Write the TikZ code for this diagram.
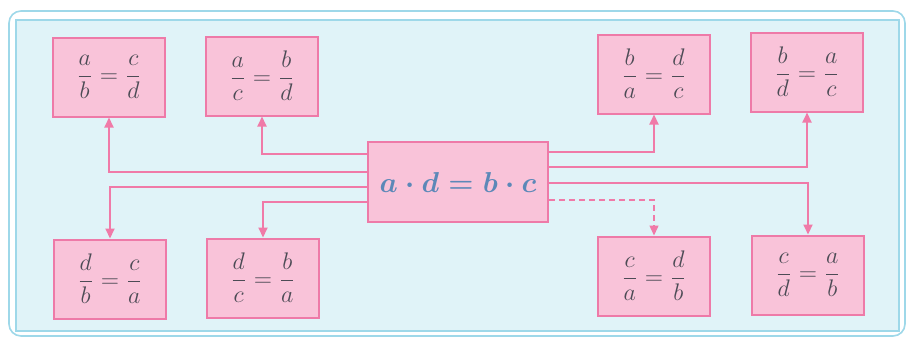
\documentclass[tikz,border=0pt]{standalone}
\usepackage{amsmath}
\usetikzlibrary{calc,arrows.meta}
\definecolor{framebg}{HTML}{E0F3F8}
\definecolor{frameline}{HTML}{9ED8E9}
\definecolor{boxfill}{HTML}{F9C3D9}
\definecolor{boxline}{HTML}{EE7AA8}
\definecolor{conn}{HTML}{F07AA8}
\definecolor{fractext}{HTML}{4C4B55}
\definecolor{eqblue}{HTML}{5C88B8}
\tikzset{
  fracbox/.style={draw=boxline,line width=1pt,fill=boxfill,minimum width=56pt,minimum height=39.5pt,inner sep=0pt,text=fractext,font=\fontsize{13}{16}\selectfont},
  mainbox/.style={draw=boxline,line width=1.2pt,fill=boxfill,minimum width=90pt,minimum height=40pt,inner sep=0pt,text=eqblue,font=\fontsize{14}{17}\selectfont},
  link/.style={draw=conn,line width=1pt,-{Triangle[length=5pt,width=4.5pt]}},
  dlink/.style={link,densely dashed,line width=0.7pt}}
\begin{document}
\begin{tikzpicture}[x=0.5pt,y=-0.5pt]
\useasboundingbox (0,0) rectangle (909,338);
\fill[white] (0,0) rectangle (909,338);
\draw[frameline,line width=0.8pt,rounded corners=6pt] (9,11) rectangle (905,336);
\draw[frameline,line width=1pt,fill=framebg] (16,20) rectangle (899,331);
\node[mainbox] (m) at (458,182) {$\boldsymbol{a\cdot d=b\cdot c}$};
\node[fracbox] (b1) at (109,77) {$\dfrac{a}{b}=\dfrac{c}{d}$};
\node[fracbox] (b2) at (262,76) {$\dfrac{a}{c}=\dfrac{b}{d}$};
\node[fracbox] (b3) at (654,74) {$\dfrac{b}{a}=\dfrac{d}{c}$};
\node[fracbox] (b4) at (807,72) {$\dfrac{b}{d}=\dfrac{a}{c}$};
\node[fracbox] (b5) at (110,279) {$\dfrac{d}{b}=\dfrac{c}{a}$};
\node[fracbox] (b6) at (263,278) {$\dfrac{d}{c}=\dfrac{b}{a}$};
\node[fracbox] (b7) at (654,276) {$\dfrac{c}{a}=\dfrac{d}{b}$};
\node[fracbox] (b8) at (808,275) {$\dfrac{c}{d}=\dfrac{a}{b}$};
\draw[link] ($(m.west)+(0,-28)$) -| (b2.south);
\draw[link] ($(m.west)+(0,-10)$) -| (b1.south);
\draw[link] ($(m.west)+(0,5)$) -| (b5.north);
\draw[link] ($(m.west)+(0,20)$) -| (b6.north);
\draw[link] ($(m.east)+(0,-30)$) -| (b3.south);
\draw[link] ($(m.east)+(0,-15)$) -| (b4.south);
\draw[link] ($(m.east)+(0,1)$) -| (b8.north);
\draw[dlink] ($(m.east)+(0,18)$) -| (b7.north);
\end{tikzpicture}
\end{document}
